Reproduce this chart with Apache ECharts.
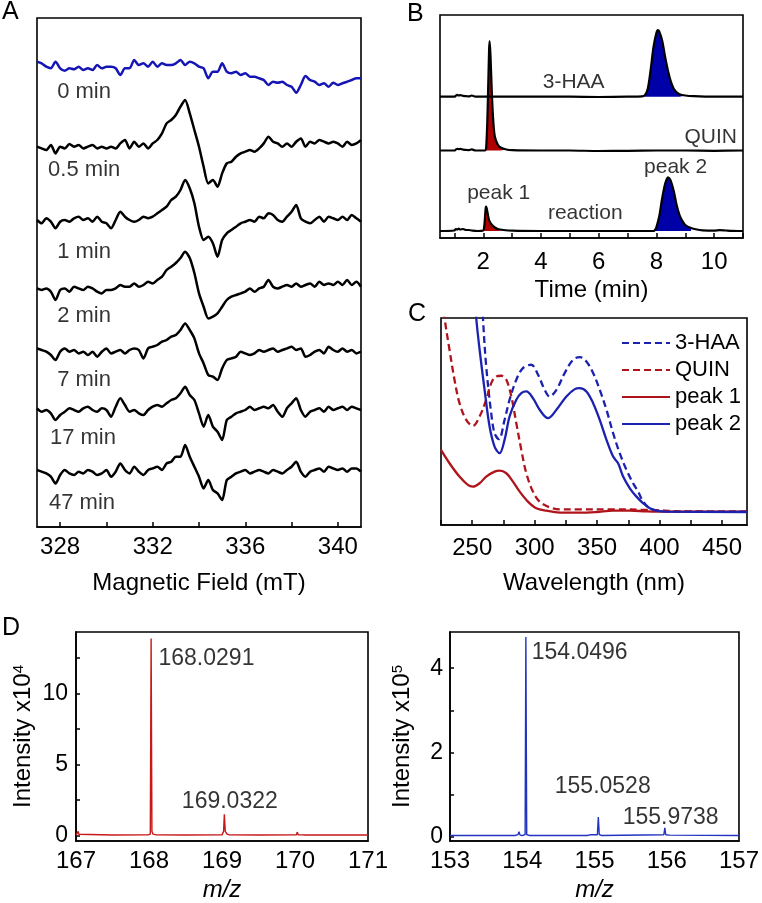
<!DOCTYPE html>
<html><head><meta charset="utf-8">
<script src="https://cdn.jsdelivr.net/npm/echarts@6/dist/echarts.min.js"></script>
<style>html,body{margin:0;padding:0;background:#fff}#c{width:762px;height:903px}</style>
</head><body><div id="c"></div>
<script>
// ---------- Panel A: EPR spectra (magnetic field grid, mT) ----------
const fieldMT = [
327.0,327.2,327.4,327.6,327.8,328.0,328.2,328.4,328.6,328.8,
329.0,329.2,329.4,329.6,329.8,330.0,330.2,330.4,330.6,330.8,
331.0,331.2,331.4,331.6,331.8,332.0,332.2,332.4,332.6,332.8,
333.0,333.2,333.4,333.6,333.8,334.0,334.2,334.4,334.6,334.8,
335.0,335.2,335.4,335.6,335.8,336.0,336.2,336.4,336.6,336.8,
337.0,337.2,337.4,337.6,337.8,338.0,338.2,338.4,338.6,338.8,
339.0,339.2,339.4,339.6,339.8,340.0,340.2,340.4,340.6,340.8,
341.0];
const eprLabels = ['0 min','0.5 min','1 min','2 min','7 min','17 min','47 min'];
const epr0 = [5.3,3.7,0.3,-1.3,5.3,-1.3,-3.7,-1.3,-2.3,0.3,
-3,-1.3,-3,2,-1.3,0.3,0.3,-1.3,-8,-1.3,
-1.3,7,2,3.7,0.3,5.3,0.3,3.7,2,2,
3.7,7,2,5.3,3.7,0.3,-1.3,-11.3,-4.7,-4.7,
3.7,-4.7,-6.3,-4.7,-8,-6.3,-9.7,-9.7,-11.3,-13,
-18,-14.7,-15.7,-14.7,-18,-19.7,-25.7,-18,-9,-13,
-14.7,-18,-16.3,-19.7,-15.7,-18,-16.3,-14.7,-13,-11.3,
-11.3];
const epr05 = [0,-1.7,-3.3,1.7,-6.7,0,-1.7,2.7,0,1.7,
-1.7,0,1.7,-1.7,0,-1.7,0,-1.7,3.3,6.7,
-1.7,5,0,3.3,-1.7,3.3,6.7,13.3,23.3,26.7,
31.7,40,46.7,33.3,16.7,0,-20,-36.7,-33.3,-40,
-26.7,-16.7,-15,-10,-6.7,-5,-3.3,-5,-1.7,3.3,
10,5,3.3,0,3.3,0,5,8.3,0,5,
3.3,6.7,5,3.3,5,3.3,0,5,1.7,3.3,
6.7];
const epr1 = [0,-3.3,1.7,-1.7,-8.3,-1.7,0,-1.7,1.7,3.3,
0,1.7,-1.7,3.3,-1.7,-3.3,-8.3,0,8.3,3.3,
0,-1.7,0,3.3,1.7,3.3,6.7,10,13.3,20,
23.3,30,40,31.7,16.7,-6.7,-20,-16.7,-23.3,-36.7,
-20,-13.3,-10,-6.7,-3.3,-1.7,0,-1.7,3.3,1.7,
6.7,5,0,-1.7,3.3,8.3,15,1.7,-1.7,-3.3,
0,3.3,-1.7,3.3,1.7,0,3.3,0,5,1.7,
-1.7];
const epr2 = [-1.7,-3.3,-1.7,-5,-13.3,-3.3,-1.7,-5,0,-1.7,
-3.3,0,-1.7,-5,-6.7,-3.3,-3.3,-1.7,1.7,0,
0,3.3,0,1.7,5,3.3,6.7,10,16.7,20,
23.7,28.7,35,28.7,13.7,-6.7,-20,-31.7,-30,-26.7,
-20,-13.3,-10,-8.3,-6.7,-5,-1.7,-5,-1.7,0,
6.7,0,-1.7,0,1.7,0,3.3,0,1.7,3.3,
0,5,1.7,3.3,1.7,5,1.7,6.7,1.7,5,
0];
const epr7 = [3.3,1.7,0,-3.3,-8.3,0,3.3,0,1.7,-1.7,
0,-3.3,0,-5,0,3.3,-1.7,0,1.7,-1.7,
1.7,3.3,1.7,-6.7,3.3,5,6.7,10,11.7,15,
16.7,21.7,28.3,21.7,13.3,-1.7,-11.7,-23.3,-25,-28.3,
-16.7,-8.3,-6.7,-5,0,-1.7,-3.3,-1.7,1.7,0,
1.7,3.3,0,1.7,3.3,5,1.7,3.3,-5,-3.3,
0,1.7,-1.7,5,1.7,0,3.3,0,1.7,-1.7,
0];
const epr17 = [1.7,-1.7,0,-3.3,-10,-5,-1.7,1.7,0,-1.7,
1.7,3.3,0,-1.7,1.7,0,-6.7,3.3,11.7,5,
-1.7,0,-3.3,-5,0,3.3,5,3.3,6.7,10,
11.7,16.7,23.3,15,10,-3.3,-16.7,-5,-16.7,-21.7,
-30,-10,-6.7,-3.3,-1.7,0,3.3,0,1.7,3.3,
1.7,5,-1.7,-6.7,1.7,6.7,11.7,0,-6.7,-1.7,
0,1.7,-1.7,3.3,0,1.7,3.3,0,3.3,1.7,
0];
const epr47 = [1.7,0,-1.7,-5,-11.7,-3.3,1.7,-1.7,-3.3,0,
-1.7,1.7,0,-3.3,-1.7,1.7,-5,0,8.3,1.7,
-1.7,5,0,-3.3,1.7,3.3,5,1.7,8.3,10,
15,15,26.7,15,5,-5,-16.7,-8.3,-18.3,-21.7,
-28.3,-8.3,-5,-1.7,0,1.7,-1.7,0,1.7,0,
-1.7,1.7,0,-1.7,1.7,5,10,0,-5,0,
1.7,3.3,0,5,3.3,1.7,3.3,0,3.3,3.3,
0];

// ---------- Panel B: HPLC chromatograms [time (min), signal] ----------
const hplcHAA = [[0.5,0],[1.0,0],[1.05,1],[1.1,1.8],[1.15,1.2],[1.2,1.5],[1.3,0.8],[1.4,0.6],[1.5,0.3],[1.6,1.2],[1.7,0.2],[1.8,0],
[2.5,0],[3,0.1],[4,0],[5,0],[6,-0.3],[7,0],[7.5,0.3],[7.6,1.5],[7.7,8],[7.8,27],[7.9,50],[8.0,64],[8.05,66.7],[8.1,65],
[8.2,56],[8.3,40],[8.4,26],[8.5,15],[8.6,8],[8.7,4.5],[8.8,2.5],[9.0,1.2],[9.3,0.5],[10,0],[11,0]];
const hplcQUIN = [[0.5,0],[1.0,0],[1.05,1],[1.1,1.6],[1.15,1.3],[1.2,1.6],[1.3,0.8],[1.4,0.6],[1.5,0.3],[1.6,1.1],[1.7,0.2],[1.8,0],
[2.05,0],[2.1,3],[2.15,40],[2.2,100],[2.22,109.3],[2.25,95],[2.3,55],[2.35,28],[2.4,14],[2.5,6],[2.6,3],[2.8,1],[3.0,0.3],
[4,0],[5,0],[6,-0.5],[7,-0.3],[8,0],[9,0],[10,-0.3],[11,0]];
const hplcRxn = [[0.5,0],[1.0,0.5],[1.05,2],[1.1,1.5],[1.15,2.5],[1.2,1.5],[1.3,2],[1.4,1],[1.5,1],[1.6,0.5],[1.8,0],[2.0,0.5],
[2.03,4],[2.05,10],[2.08,22],[2.1,24.3],[2.15,18],[2.2,11],[2.3,6],[2.4,3.5],[2.5,2],[2.7,1],[3.0,0.3],[4,0],[5,0],[6,0],[7,0],[7.9,0],
[7.95,1],[8.0,4],[8.1,15],[8.2,33],[8.3,47],[8.4,53.7],[8.45,52.5],[8.5,50],[8.6,40],[8.7,26],[8.8,16],[8.9,10],[9.0,6],
[9.2,3],[9.4,1.5],[9.6,0.7],[10,0.3],[10.2,0.8],[10.4,0.5],[10.6,0.2],[11,0]];

// ---------- Panel C: UV-vis spectra [wavelength (nm), absorbance a.u.] ----------
const uvHAA = [[250,2.5],[255.9,1.57],[258.6,1.16],[261.2,0.87],[265.2,0.59],[267.9,0.47],[271.4,0.434],[275.9,0.55],[279.9,0.67],
[285.3,0.79],[290.6,0.86],[297.3,0.88],[302.7,0.82],[308.0,0.73],[312.0,0.69],[317.4,0.73],[324.0,0.83],[330.7,0.91],[336.1,0.926],
[341.4,0.90],[346.8,0.83],[352.1,0.73],[357.5,0.61],[362.8,0.47],[368.1,0.35],[373.5,0.25],[378.8,0.17],[382.8,0.12],[386.9,0.06],
[392.2,0.02],[400.2,0.006],[416.3,0],[470,0]];
const uvQUIN = [[225,1.33],[227.8,1.16],[231.8,0.97],[235.8,0.79],[239.8,0.65],[245.2,0.55],[250.5,0.514],[255.9,0.57],[261.2,0.67],
[265.2,0.77],[269.2,0.81],[273.3,0.814],[277.3,0.79],[281.3,0.69],[285.3,0.53],[289.3,0.37],[293.3,0.23],[298.6,0.12],[304.0,0.06],
[312.0,0.026],[320.0,0.014],[336.1,0.014],[362.8,0.014],[389.5,0.01],[416.3,0.002],[470,0]];
const uvPeak1 = [[225,0.37],[231.8,0.29],[239.8,0.21],[246.5,0.16],[250.5,0.15],[255.9,0.17],[261.2,0.21],[267.9,0.24],[271.9,0.246],
[277.3,0.23],[282.6,0.18],[288.0,0.12],[294.6,0.06],[301.3,0.02],[309.3,0.006],[322.7,-0.006],[336.1,-0.006],[349.4,-0.002],
[362.8,0.006],[376.2,0.006],[389.5,0.002],[402.9,0],[470,0]];
const uvPeak2 = [[248,2.0],[250.5,1.43],[253.2,1.16],[255.9,0.97],[259.9,0.73],[263.9,0.51],[267.9,0.39],[271.9,0.35],[275.9,0.43],
[279.9,0.57],[285.3,0.67],[289.3,0.71],[293.3,0.72],[298.6,0.68],[304.0,0.61],[310.7,0.56],[317.4,0.61],[325.4,0.69],[332.1,0.734],
[336.1,0.74],[341.4,0.72],[346.8,0.65],[352.1,0.55],[357.5,0.43],[362.8,0.33],[366.8,0.29],[370.8,0.21],[376.2,0.14],[381.5,0.09],
[386.9,0.05],[392.2,0.02],[397.5,0.006],[405.6,0],[470,-0.002]];

// ---------- Panel D: mass spectra [m/z, intensity] ----------
const msQUIN = [[167.0,0.04],[167.02,0.05],[167.03,0.3],[167.038,0.1],[167.05,0.05],[167.5,0.04],[167.95,0.05],[167.97,0.15],[167.99,0.05],
[168.018,0.1],[168.029,13.9],[168.04,0.3],[168.055,0.1],[168.1,0.05],[168.5,0.04],[169.0,0.05],[169.022,0.3],[169.032,1.5],
[169.045,0.3],[169.07,0.1],[169.1,0.05],[169.5,0.04],[170.02,0.05],[170.03,0.25],[170.045,0.05],[170.1,0.05],[170.12,0.1],
[170.14,0.04],[171,0.04]];
const msHAA = [[153,0.03],[153.9,0.03],[153.94,0.05],[153.955,0.12],[153.97,0.04],[154.0,0.03],[154.04,0.05],[154.05,4.74],
[154.062,0.05],[154.1,0.03],[154.9,0.03],[154.95,0.05],[154.96,0.03],[155.04,0.05],[155.053,0.47],[155.066,0.05],[155.1,0.03],
[155.96,0.05],[155.974,0.21],[155.986,0.05],[156.04,0.04],[156.05,0.07],[156.06,0.03],[157,0.03]];
const msLabels = ['168.0291','169.0322','154.0496','155.0528','155.9738'];

// ---------- build option ----------
const FONT = 'Liberation Sans, Arial, sans-serif';
const BLUE = '#1c22b0', RED = '#b0141b', FILLRED = '#b00000', FILLBLUE = '#0000a8';
const eprTraces = [epr0, epr05, epr1, epr2, epr7, epr17, epr47];
const eprBase = [460, 380.3, 307, 240.3, 175.3, 117, 55.3];
const series = [];
eprTraces.forEach((tr, i) => {
  series.push({type:'line', xAxisIndex:0, yAxisIndex:0, showSymbol:false, symbol:'none', smooth:0.25,
    data: fieldMT.map((x, j) => [x, eprBase[i] + tr[j]]),
    lineStyle:{color: i === 0 ? '#1515b5' : '#000', width:2.5}, silent:true});
});
const eprLabelPos = [[327.87,435],[327.48,357],[327.87,275],[327.87,211],[327.87,147],[327.56,89],[327.52,24]];
series.push({type:'scatter', xAxisIndex:0, yAxisIndex:0, symbolSize:0, silent:true,
  data: eprLabels.map((t, i) => ({name:t, value:eprLabelPos[i]})),
  label:{show:true, position:'right', distance:0, formatter:'{b}', color:'#000', fontSize:22, fontFamily:FONT}});

// Panel B
function addFill(trace, base, lo, hi, color) {
  const seg = trace.filter(p => p[0] >= lo && p[0] <= hi);
  series.push({type:'line', xAxisIndex:1, yAxisIndex:1, showSymbol:false, symbol:'none', smooth:0.3,
    data: seg.map(p => [p[0], base + p[1]]), lineStyle:{opacity:0},
    areaStyle:{color:color, opacity:1, origin:base}, silent:true});
}
const hplcBase = [141.3, 87.5, 7];
addFill(hplcHAA, hplcBase[0], 7.6, 9.0, FILLBLUE);
addFill(hplcQUIN, hplcBase[1], 2.05, 2.8, FILLRED);
addFill(hplcRxn, hplcBase[2], 2.0, 2.7, FILLRED);
addFill(hplcRxn, hplcBase[2], 7.9, 9.2, FILLBLUE);
[hplcHAA, hplcQUIN, hplcRxn].forEach((tr, i) => {
  series.push({type:'line', xAxisIndex:1, yAxisIndex:1, showSymbol:false, symbol:'none', smooth:0.3, z:5,
    data: tr.map(p => [p[0], hplcBase[i] + p[1]]), lineStyle:{color:'#000', width:2.2}, silent:true});
});
series.push({type:'scatter', xAxisIndex:1, yAxisIndex:1, symbolSize:0, silent:true,
  data:[{name:'3-HAA',value:[4.06,156]},{name:'QUIN',value:[8.97,101]},{name:'peak 1',value:[1.44,45]},
        {name:'reaction',value:[4.24,25]},{name:'peak 2',value:[7.57,71]}],
  label:{show:true, position:'right', distance:0, formatter:'{b}', color:'#000', fontSize:21, fontFamily:FONT}});

// Panel C
const uvDefs = [['3-HAA', uvHAA, BLUE, [7,4]], ['QUIN', uvQUIN, RED, [7,4]], ['peak 1', uvPeak1, RED, 'solid'], ['peak 2', uvPeak2, BLUE, 'solid']];
uvDefs.forEach(d => {
  series.push({name:d[0], type:'line', xAxisIndex:2, yAxisIndex:2, showSymbol:false, symbol:'none', smooth:0.35,
    data:d[1], lineStyle:{color:d[2], width:2.3, type:d[3]}, itemStyle:{color:d[2]}, silent:true});
});

// Panel D
series.push({type:'line', xAxisIndex:3, yAxisIndex:3, showSymbol:false, symbol:'none', data:msQUIN,
  lineStyle:{color:'#c81818', width:1.4}, silent:true});
series.push({type:'line', xAxisIndex:4, yAxisIndex:4, showSymbol:false, symbol:'none', data:msHAA,
  lineStyle:{color:'#2233c0', width:1.4}, silent:true});
series.push({type:'scatter', xAxisIndex:3, yAxisIndex:3, symbolSize:0, silent:true,
  data:[{name:msLabels[0],value:[168.13,12.5]},{name:msLabels[1],value:[168.45,2.4]}],
  label:{show:true, position:'right', distance:0, formatter:'{b}', color:'#000', fontSize:23, fontFamily:FONT}});
series.push({type:'scatter', xAxisIndex:4, yAxisIndex:4, symbolSize:0, silent:true,
  data:[{name:msLabels[2],value:[154.13,4.36]},{name:msLabels[3],value:[154.45,1.18]},{name:msLabels[4],value:[155.39,0.45]}],
  label:{show:true, position:'right', distance:0, formatter:'{b}', color:'#000', fontSize:23, fontFamily:FONT}});

const gridStyle = {show:true, borderColor:'#000', borderWidth:1.6, backgroundColor:'transparent', containLabel:false};
const lbl = (extra) => Object.assign({color:'#000', fontSize:24, fontFamily:FONT}, extra);
const axLine = {show:true, onZero:false, lineStyle:{color:'#000', width:1.6}};
function xAx(grid, min, max, labels, ticks, name, gap, margin, extra) {
  return Object.assign({type:'value', gridIndex:grid, min:min, max:max,
    axisLine:axLine, splitLine:{show:false},
    axisTick: ticks ? {show:true, inside:true, customValues:ticks, length:5, lineStyle:{color:'#000', width:1.5}} : {show:false},
    axisLabel: lbl({customValues:labels, margin:margin, showMinLabel:true, showMaxLabel:true}),
    name:name, nameLocation:'middle', nameGap:gap, nameTextStyle: lbl({})}, extra || {});
}
const option = {
  animation:false,
  textStyle:{fontFamily:FONT},
  grid:[
    Object.assign({left:37, top:18, width:324, height:509}, gridStyle),
    Object.assign({left:440, top:15, width:303, height:223}, gridStyle),
    Object.assign({left:441, top:318, width:306, height:207}, gridStyle),
    Object.assign({left:76, top:632, width:292, height:211}, gridStyle),
    Object.assign({left:450, top:632, width:290, height:211}, gridStyle)
  ],
  xAxis:[
    xAx(0, 327, 341, [328,332,336,340], [328,330,332,334,336,338,340], 'Magnetic Field (mT)', 44, 8),
    xAx(1, 0.5, 11, [2,4,6,8,10], [1,2,3,4,5,6,7,8,9,10,11], 'Time (min)', 40, 12),
    xAx(2, 225, 470, [250,300,350,400,450], [225,250,275,300,325,350,375,400,425,450], 'Wavelength (nm)', 46, 11),
    xAx(3, 167, 171, [167,168,169,170,171], null, 'm/z', 37, 8, {nameTextStyle: lbl({fontStyle:'italic'})}),
    xAx(4, 153, 157, [153,154,155,156,157], null, 'm/z', 37, 8, {nameTextStyle: lbl({fontStyle:'italic'})})
  ],
  yAxis:[
    {type:'value', gridIndex:0, min:0, max:509, show:false},
    {type:'value', gridIndex:1, min:0, max:223, show:false},
    {type:'value', gridIndex:2, min:-0.08, max:1.16, show:false},
    {type:'value', gridIndex:3, min:-0.38, max:14.35, axisLine:axLine, splitLine:{show:false},
      axisTick:{show:true, inside:true, customValues:[0,2.5,5,7.5,10,12.5], length:4, lineStyle:{color:'#000', width:1.5}},
      axisLabel: lbl({customValues:[0,5,10], margin:8, fontSize:23}),
      name:'Intensity x10{sup|4}', nameLocation:'middle', nameGap:41, nameRotate:90,
      nameTextStyle: lbl({rich:{sup:{fontSize:15, verticalAlign:'top', fontFamily:FONT, color:'#000'}}})},
    {type:'value', gridIndex:4, min:-0.1, max:4.86, axisLine:axLine, splitLine:{show:false},
      axisTick:{show:true, inside:true, customValues:[0,1,2,3,4], length:4, lineStyle:{color:'#000', width:1.5}},
      axisLabel: lbl({customValues:[0,2,4], margin:7, fontSize:23}),
      name:'Intensity x10{sup|5}', nameLocation:'middle', nameGap:36, nameRotate:90,
      nameTextStyle: lbl({rich:{sup:{fontSize:15, verticalAlign:'top', fontFamily:FONT, color:'#000'}}})}
  ],
  legend:{data:['3-HAA','QUIN','peak 1','peak 2'], orient:'vertical', left:621, top:332, padding:0,
    itemWidth:48, itemHeight:12, itemGap:5, itemStyle:{opacity:0, borderWidth:0},
    textStyle:{fontSize:22, color:'#000', fontFamily:FONT}, selectedMode:false},
  graphic:[
    {type:'text', left:2, top:0, style:{text:'A', fontSize:25, fill:'#000', fontFamily:FONT}},
    {type:'text', left:407, top:2, style:{text:'B', fontSize:25, fill:'#000', fontFamily:FONT}},
    {type:'text', left:408, top:302, style:{text:'C', fontSize:25, fill:'#000', fontFamily:FONT}},
    {type:'text', left:2, top:616, style:{text:'D', fontSize:25, fill:'#000', fontFamily:FONT}}
  ],
  series:series
};
const chart = echarts.init(document.getElementById('c'), null, {renderer:'canvas'});
chart.setOption(option);
</script>
</body></html>
